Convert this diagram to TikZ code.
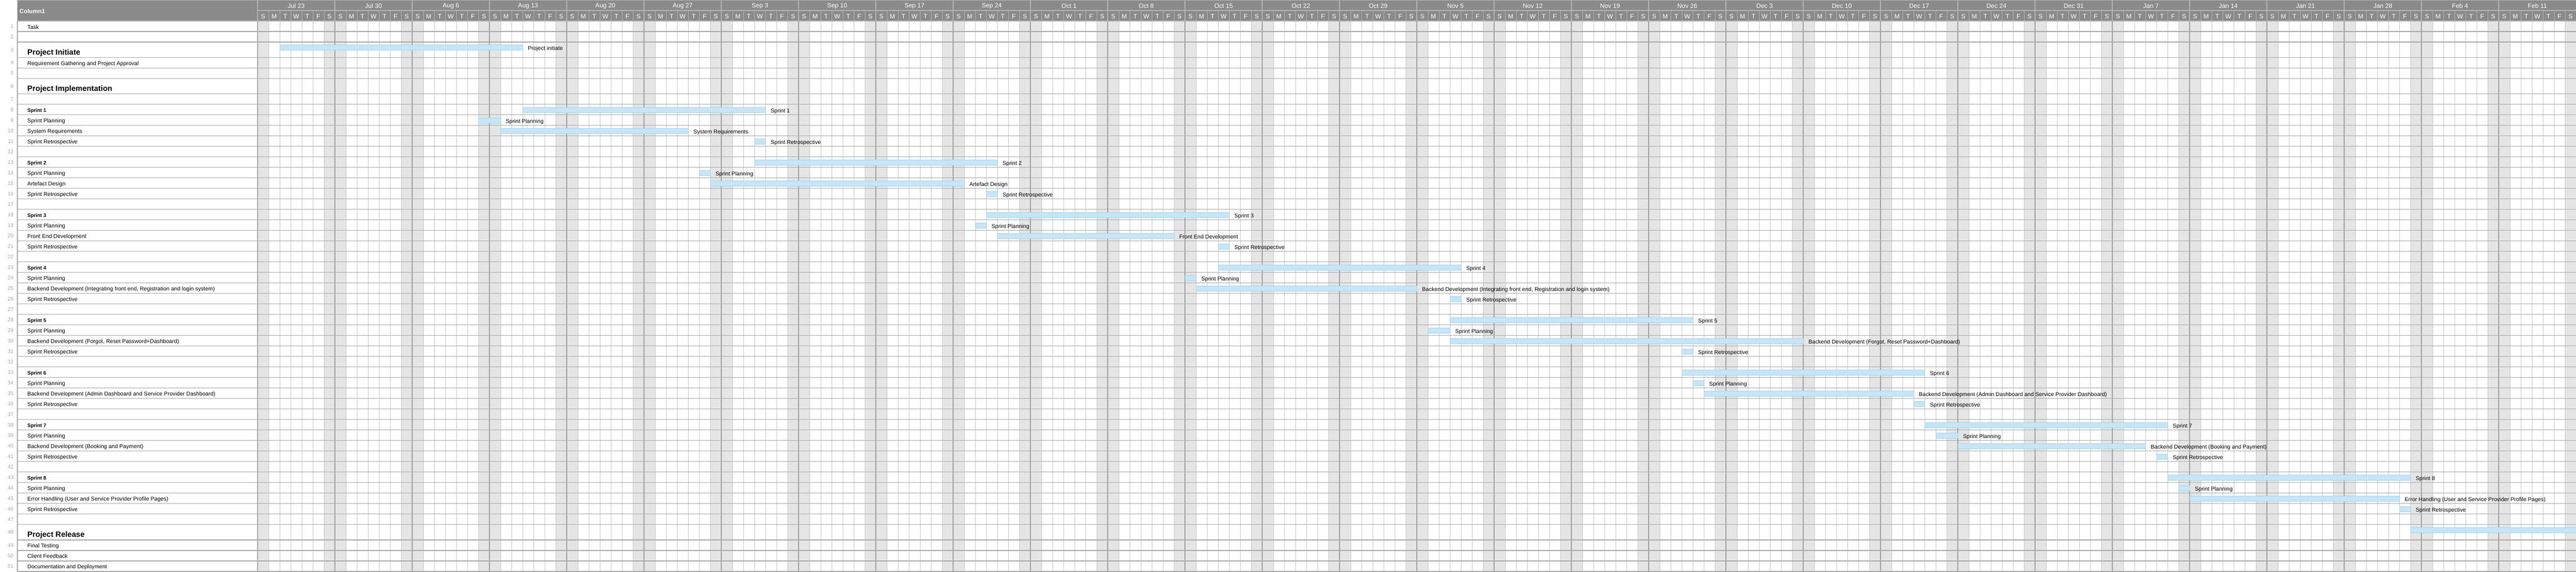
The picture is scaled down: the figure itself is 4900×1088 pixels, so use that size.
\documentclass[tikz,border=0pt]{standalone}
\usepackage{fontspec}
\setmainfont{Liberation Sans}
\usetikzlibrary{positioning}
\definecolor{headgray}{HTML}{8A8A8A}
\definecolor{headline}{HTML}{B4B4B4}
\definecolor{rowline}{HTML}{A9A9A9}
\definecolor{dayline}{HTML}{C8C8C8}
\definecolor{weekline}{HTML}{A0A0A0}
\definecolor{weekend}{HTML}{E5E5E5}
\definecolor{barfill}{HTML}{C7E5F7}
\definecolor{baredge}{HTML}{A0D6F2}
\definecolor{numgray}{HTML}{A8A8A8}
\newcommand{\rowpos}[1]{%
  \pgfmathsetmacro\rtop{40+20*(#1-1)+9.3*((#1>3)+(#1>6)+(#1>48))}%
  \pgfmathsetmacro\rbot{\rtop+20+9.3*((#1==3)+(#1==6)+(#1==48))}}

\begin{document}
\begin{tikzpicture}[x=1pt,y=-1pt,
  hdrtxt/.style={text=white,inner sep=0pt,font=\fontsize{12}{12}\selectfont},
  tasktxt/.style={anchor=base west,inner sep=0pt,font=\fontsize{10.6}{12}\selectfont},
  sprinttxt/.style={tasktxt,font=\fontsize{9.6}{12}\selectfont\bfseries},
  phasetxt/.style={tasktxt,font=\fontsize{14.6}{17}\selectfont\bfseries},
  numtxt/.style={anchor=base east,inner sep=0pt,text=numgray,font=\fontsize{10}{12}\selectfont},
  taskbar/.style={draw=baredge,fill=barfill,line width=0.9pt,inner sep=0pt,minimum height=10pt,anchor=north west},
  barlbl/.style={anchor=base west,inner sep=0pt,font=\fontsize{10.6}{12}\selectfont}]
\useasboundingbox (0,0) rectangle (4900,1088);
\fill[white] (0,0) rectangle (4900,1088);
\foreach \w in {0,...,29}{
  \fill[weekend] (490+147*\w,40) rectangle +(21,1048);
  \fill[weekend] (616+147*\w,40) rectangle +(21,1048);
}
\foreach \d in {1,...,209}
  \draw[dayline,line width=0.8pt] (490+21*\d,40) -- (490+21*\d,1088);
\foreach \w in {1,...,29}
  \draw[weekline,line width=1.2pt] (490+147*\w,40) -- (490+147*\w,1088);
\foreach \r in {1,...,51}{
  \rowpos{\r}
  \draw[rowline,line width=1.3pt] (33,\rbot) -- (4900,\rbot);
  \node[numtxt] (num\r) at (26,{(\rtop+\rbot)/2+3.6}) {\r};
}
\draw[rowline,line width=1.3pt] (33,40) -- (33,1088);
\draw[rowline,line width=1.3pt] (490,40) -- (490,1088);

\fill[headgray] (33,0) rectangle (4900,40);
\draw[headline,line width=1.2pt] (33,0.6) -- (4900,0.6);
\draw[headline,line width=1.2pt] (490,20) -- (4900,20);
\draw[headline,line width=1.2pt] (33,40) -- (4900,40);
\foreach \w in {0,...,29}
  \draw[headline,line width=1.2pt] (490+147*\w,0) -- (490+147*\w,40);
\foreach \d in {1,...,209}
  \draw[headline,line width=0.8pt] (490+21*\d,20) -- (490+21*\d,40);
\node[anchor=west,inner sep=0pt,text=white,font=\fontsize{11.3}{12}\selectfont\bfseries] (colhead) at (37,21.7) {Column1};
\foreach \lab [count=\i from 0] in {Jul 23,Jul 30,Aug 6,Aug 13,Aug 20,Aug 27,Sep 3,Sep 10,Sep 17,Sep 24,Oct 1,Oct 8,Oct 15,Oct 22,Oct 29,Nov 5,Nov 12,Nov 19,Nov 26,Dec 3,Dec 10,Dec 17,Dec 24,Dec 31,Jan 7,Jan 14,Jan 21,Jan 28,Feb 4,Feb 11}
  \node[hdrtxt] (wk\i) at (563.5+147*\i,11.3) {\lab};
\foreach \w in {0,...,29}{
  \foreach \dl [count=\i from 0] in {S,M,T,W,T,F,S}
    \node[hdrtxt] (day\w-\i) at (500.5+147*\w+21*\i,31.3) {\dl};
}

\foreach \r/\sty/\txt in {1/tasktxt/Task, 3/phasetxt/Project Initiate,
  4/tasktxt/Requirement Gathering and Project Approval, 6/phasetxt/Project Implementation,
  8/sprinttxt/Sprint 1, 9/tasktxt/Sprint Planning, 10/tasktxt/System Requirements, 11/tasktxt/Sprint Retrospective,
  13/sprinttxt/Sprint 2, 14/tasktxt/Sprint Planning, 15/tasktxt/Artefact Design, 16/tasktxt/Sprint Retrospective,
  18/sprinttxt/Sprint 3, 19/tasktxt/Sprint Planning, 20/tasktxt/Front End Development, 21/tasktxt/Sprint Retrospective,
  23/sprinttxt/Sprint 4, 24/tasktxt/Sprint Planning,
  25/tasktxt/{Backend Development (Integrating front end, Registration and login system)}, 26/tasktxt/Sprint Retrospective,
  28/sprinttxt/Sprint 5, 29/tasktxt/Sprint Planning,
  30/tasktxt/{Backend Development (Forgot, Reset Password+Dashboard)}, 31/tasktxt/Sprint Retrospective,
  33/sprinttxt/Sprint 6, 34/tasktxt/Sprint Planning,
  35/tasktxt/Backend Development (Admin Dashboard and Service Provider Dashboard), 36/tasktxt/Sprint Retrospective,
  38/sprinttxt/Sprint 7, 39/tasktxt/Sprint Planning,
  40/tasktxt/Backend Development (Booking and Payment), 41/tasktxt/Sprint Retrospective,
  43/sprinttxt/Sprint 8, 44/tasktxt/Sprint Planning,
  45/tasktxt/Error Handling (User and Service Provider Profile Pages), 46/tasktxt/Sprint Retrospective,
  48/phasetxt/Project Release, 49/tasktxt/Final Testing, 50/tasktxt/Client Feedback,
  51/tasktxt/Documentation and Deployment}{
  \rowpos{\r}
  \node[\sty] (lbl\r) at (52,\rbot-5) {\txt};
}

\foreach \r/\s/\e/\txt in {3/2/24/Project initiate,
  8/24/46/Sprint 1, 9/20/22/Sprint Planning, 10/22/39/System Requirements, 11/45/46/Sprint Retrospective,
  13/45/67/Sprint 2, 14/40/41/Sprint Planning, 15/41/64/Artefact Design, 16/66/67/Sprint Retrospective,
  18/66/88/Sprint 3, 19/65/66/Sprint Planning, 20/67/83/Front End Development, 21/87/88/Sprint Retrospective,
  23/87/109/Sprint 4, 24/84/85/Sprint Planning,
  25/85/105/{Backend Development (Integrating front end, Registration and login system)}, 26/108/109/Sprint Retrospective,
  28/108/130/Sprint 5, 29/106/108/Sprint Planning,
  30/108/140/{Backend Development (Forgot, Reset Password+Dashboard)}, 31/129/130/Sprint Retrospective,
  33/129/151/Sprint 6, 34/130/131/Sprint Planning,
  35/131/150/Backend Development (Admin Dashboard and Service Provider Dashboard), 36/150/151/Sprint Retrospective,
  38/151/173/Sprint 7, 39/152/154/Sprint Planning,
  40/154/171/Backend Development (Booking and Payment), 41/172/173/Sprint Retrospective,
  43/173/195/Sprint 8, 44/174/175/Sprint Planning,
  45/175/194/Error Handling (User and Service Provider Profile Pages), 46/194/195/Sprint Retrospective}{
  \rowpos{\r}
  \pgfmathsetmacro\bw{21*(\e-\s)}
  \node[taskbar,minimum width=\bw pt] (bar\r) at (490+21*\s,\rtop+5) {};
  \node[barlbl] (bl\r) at ([xshift=9pt]bar\r.south east) {\txt};
}
\rowpos{48}
\node[taskbar,minimum width=315pt] (bar48) at (4585,\rtop+5) {};
\end{tikzpicture}
\end{document}
